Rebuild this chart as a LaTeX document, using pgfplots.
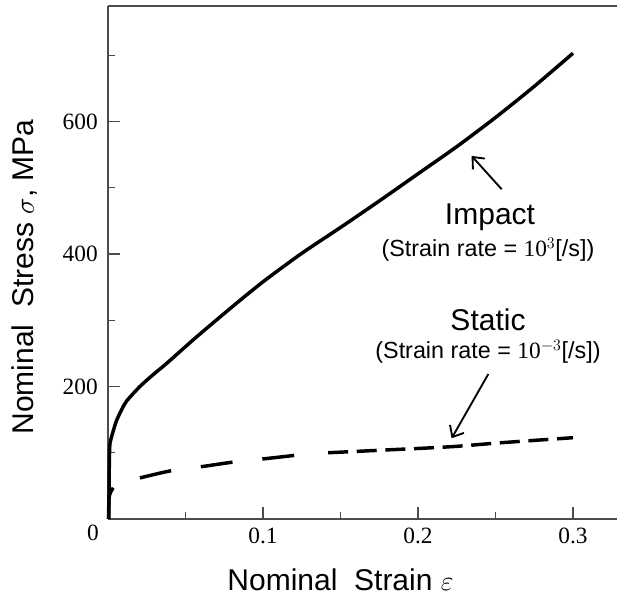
\documentclass[border=0pt]{standalone}
\usepackage{pgfplots}
\pgfplotsset{compat=1.18}
\usetikzlibrary{arrows.meta}
\usepackage{fontspec}
\setmainfont{Liberation Serif}
\newfontfamily\arial{Liberation Sans}
\begin{document}
\begin{tikzpicture}
\begin{axis}[
  scale only axis,
  width=381.75pt, height=384.75pt,
  xmin=0, xmax=0.3284, ymin=0, ymax=774.3,
  axis x line*=bottom, axis y line*=left,
  axis line style={black!70, line width=0.9pt},
  tick align=inside,
  major tick length=9pt, minor tick length=5.25pt,
  every tick/.style={black!70, line width=0.9pt},
  xtick={0.1,0.2,0.3}, minor xtick={0.05,0.15,0.25},
  ytick={200,400,600}, minor ytick={100,300,500,700},
  xticklabels={0.1,0.2,0.3},
  yticklabels={200,400,600},
  tick label style={font=\fontsize{17.5}{19}\selectfont, inner sep=0pt},
  xticklabel style={yshift=-6.5pt},
  yticklabel style={xshift=-7.5pt},
  clip=false,
]
% Impact (strain rate 10^3 /s)
\addplot[black, line width=2.6pt, line join=round, smooth, tension=0.45] coordinates {
(0.0005,0) (0.0007,50) (0.0009,90) (0.0013,114) (0.0034,133)
(0.0056,149) (0.0088,165) (0.012,178) (0.0206,200) (0.0292,218)
(0.0379,235) (0.0572,275) (0.08,320) (0.1,358) (0.125,401) (0.15,440)
(0.175,480) (0.2,521) (0.225,562) (0.25,606) (0.275,653) (0.3,703)
};
% Static (strain rate 10^-3 /s)
\addplot[black, line width=2.6pt, smooth] coordinates {
(0.0003,0) (0.0005,20) (0.0008,34) (0.002,42) (0.0034,47)
};
\addplot[black, line width=2.6pt, smooth, dash pattern=on 24pt off 22.5pt] coordinates {
(0.0206,62) (0.041,73) (0.0604,79) (0.081,86) (0.1013,91) (0.1226,96.6)
};
\addplot[black, line width=2.6pt, smooth, dash pattern=on 15pt off 6.5pt] coordinates {
(0.142,100) (0.1776,104) (0.2206,109) (0.253,115) (0.3,122.7)
};
% annotation arrows
\draw[black, line width=1.4pt, -{Straight Barb[length=7pt,width=12pt]}]
  (axis cs:0.254,497.7) -- (axis cs:0.2346,548);
\draw[black, line width=1.4pt, -{Straight Barb[length=7pt,width=12pt]}]
  (axis cs:0.2454,218.9) -- (axis cs:0.2217,121.8);
\draw[black!70, line width=0.9pt] (rel axis cs:0,1) -- (rel axis cs:1,1);
\coordinate (bl) at (rel axis cs:0,0);
\coordinate (tr) at (rel axis cs:1,1);
\end{axis}
\node[rotate=90, font=\arial\fontsize{22.5}{26}\selectfont] at ([xshift=-62.25pt,yshift=181.5pt]bl) {Nominal\ \ Stress $\sigma$, MPa};
\node[font=\arial\fontsize{22.5}{26}\selectfont] at ([xshift=174.4pt,yshift=-45.75pt]bl) {Nominal\ \ Strain $\varepsilon$};
\node[font=\fontsize{17.5}{19}\selectfont, inner sep=0pt] at ([xshift=-11.25pt,yshift=-10.5pt]bl) {0};
\node[font=\arial\fontsize{22.5}{26}\selectfont] at ([xshift=286.5pt,yshift=226.5pt]bl) {Impact};
\node[font=\arial\fontsize{17.5}{20}\selectfont] at ([xshift=285pt,yshift=201.75pt]bl) {(Strain rate = {\rmfamily 10}$^{3}$[/s])};
\node[font=\arial\fontsize{22.5}{26}\selectfont] at ([xshift=285pt,yshift=149.25pt]bl) {Static};
\node[font=\arial\fontsize{17.5}{20}\selectfont] at ([xshift=285pt,yshift=125.25pt]bl) {(Strain rate = {\rmfamily 10}$^{-3}$[/s])};
\pgfresetboundingbox
\path ([xshift=-81pt,yshift=-57.75pt]bl) rectangle ([yshift=4.5pt]tr);
\end{tikzpicture}
\end{document}
